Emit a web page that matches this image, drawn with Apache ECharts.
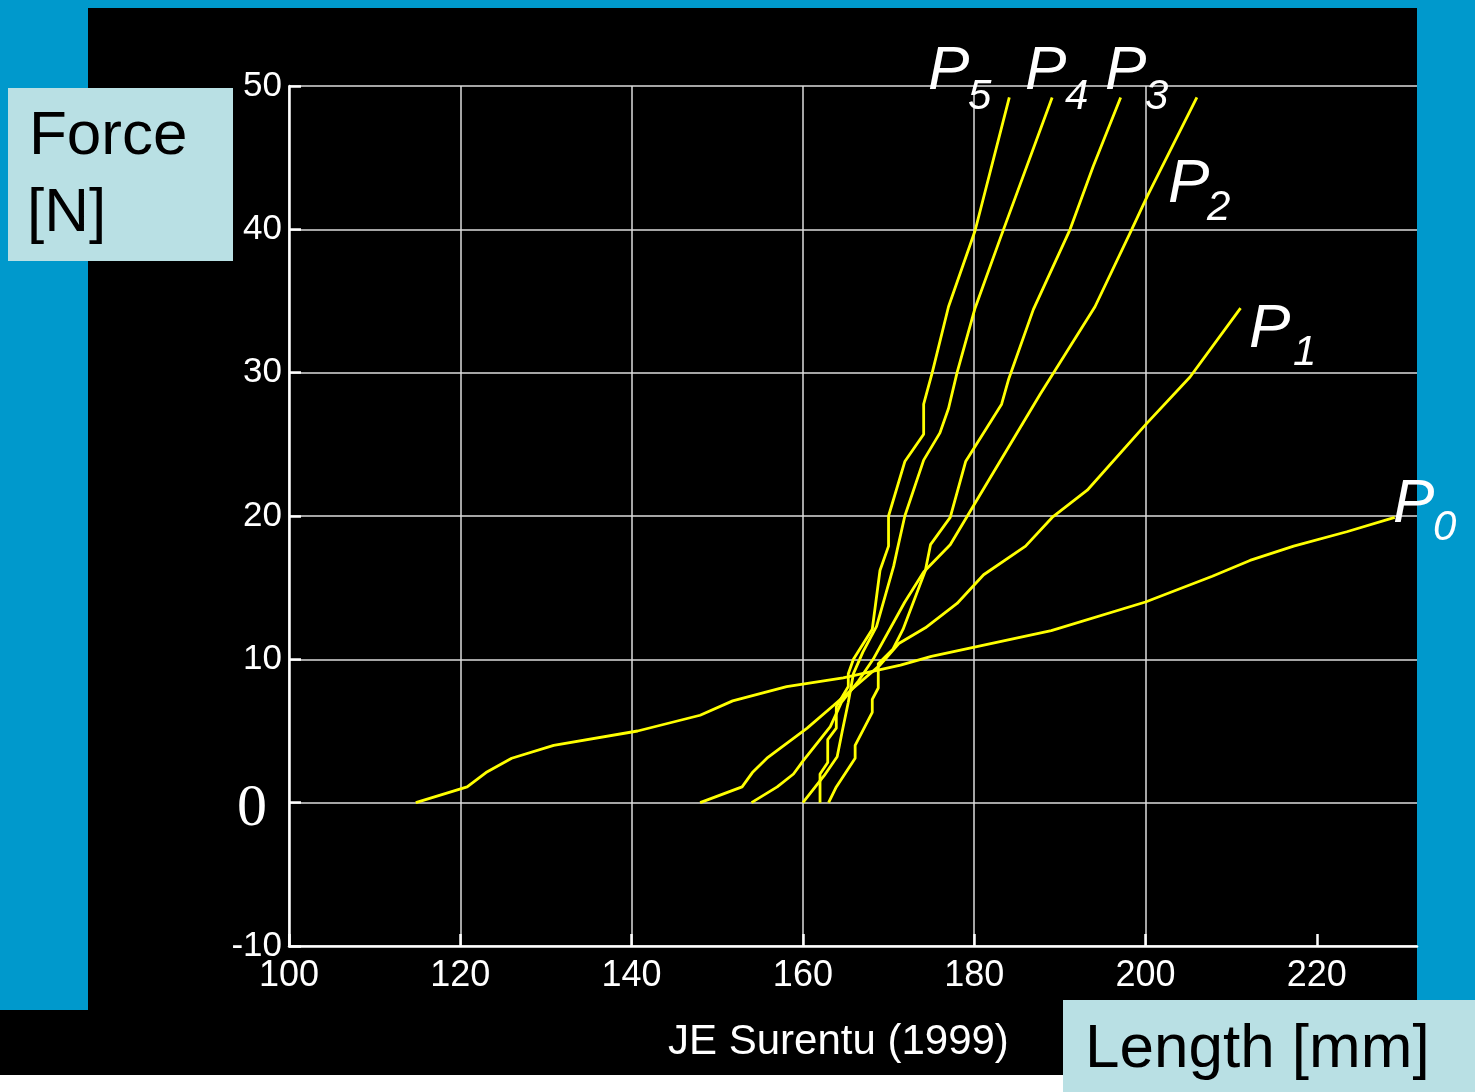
<!DOCTYPE html>
<html>
<head>
<meta charset="utf-8">
<script src="https://cdn.jsdelivr.net/npm/echarts@6/dist/echarts.min.js"></script>
<style>
  html, body { margin: 0; padding: 0; background: #0099CC; }
  #chart { width: 1475px; height: 1092px; }
</style>
</head>
<body>
<div id="chart"></div>
<script>
// ---- data (length mm, force N) ----
const xTickValues = [100, 120, 140, 160, 180, 200, 220];
const yTickValues = [-10, 0, 10, 20, 30, 40, 50];
const seriesNames = ['P0', 'P1', 'P2', 'P3', 'P4', 'P5'];

const p0 = [[114.8,0],[120.8,1.1],[123.0,2.1],[126.0,3.1],[130.9,4.0],[140.7,5.0],[148.0,6.1],[151.8,7.1],[158.1,8.1],[164.7,8.7],[171.4,9.6],[175.0,10.2],[189.0,12.0],[200.0,14.0],[207.8,15.8],[212.2,16.9],[217.3,17.9],[223.5,18.9],[229.1,19.9]];
const p1 = [[148.0,0],[152.9,1.1],[154.1,2.1],[155.8,3.1],[160.5,5.2],[163.6,6.8],[165.9,8.0],[169.0,9.6],[171.2,11.1],[174.3,12.2],[178.0,13.9],[181.1,15.9],[186.0,17.9],[189.1,19.9],[193.2,21.8],[200.2,26.5],[205.2,29.7],[211.1,34.5]];
const p2 = [[154.0,0],[157.0,1.1],[158.9,2.0],[160.0,2.9],[163.2,5.3],[164.5,7.0],[166.5,8.5],[168.2,10.0],[171.9,14.0],[174.1,16.1],[177.2,18.0],[179.9,20.7],[187.7,28.5],[194.1,34.6],[198.4,40.0],[200.2,42.3],[206.0,49.2]];
const p3 = [[163.0,0],[163.9,1.1],[166.1,3.1],[166.1,4.0],[168.1,6.3],[168.1,7.2],[168.8,8.0],[168.8,9.7],[170.5,10.7],[171.7,12.1],[174.3,16.2],[174.9,18.0],[177.2,19.9],[179.0,23.8],[183.2,27.8],[184.0,29.5],[186.9,34.4],[191.2,40.0],[193.9,44.4],[197.1,49.2]];
const p4 = [[160.0,0],[162.5,1.9],[164.0,3.2],[164.6,5.0],[165.3,7.0],[165.9,9.0],[167.0,10.5],[168.6,12.3],[170.6,16.5],[171.0,17.6],[171.9,20.0],[174.1,23.9],[176.0,25.8],[177.0,27.5],[178.0,30.0],[180.1,34.5],[183.0,39.3],[189.1,49.2]];
const p5 = [[162.0,0],[162.0,2.0],[162.9,2.8],[162.9,4.4],[163.9,5.2],[163.9,6.7],[165.3,8.1],[165.3,9.0],[165.9,10.0],[168.1,12.1],[169.0,16.2],[170.0,17.9],[170.0,20.0],[171.9,23.8],[174.1,25.7],[174.1,27.8],[175.1,30.0],[177.0,34.6],[180.1,39.9],[184.1,49.2]];
const allSeries = [p0, p1, p2, p3, p4, p5];

const chart = echarts.init(document.getElementById('chart'), null, { renderer: 'canvas' });

const WHITE = '#FFFFFF';
const LIGHT = '#B9E0E4';
const FONT = 'Liberation Sans, Arial, sans-serif';

function rect(x, y, w, h, color) {
  return { type: 'rect', z: -10, silent: true, shape: { x, y, width: w, height: h }, style: { fill: color } };
}
function txt(x, y, text, size, color, italic, family) {
  return { type: 'text', z: 100, silent: true, x, y,
    style: { text, fill: color, font: (italic ? 'italic ' : '') + size + 'px ' + (family || FONT),
      align: 'left', verticalAlign: 'middle' } };
}

// labels for curves: [P-left, P-center-y, sub-left, sub-center-y]
const labelPos = [
  [1393, 505, 1433, 528],
  [1249, 330, 1293, 353],
  [1168, 185, 1207, 208],
  [1105, 72, 1145, 97],
  [1025, 72, 1065, 97],
  [928, 72, 968, 97]
];

const graphics = [
  rect(88, 8, 1329, 1067, '#000000'),
  rect(0, 1010, 88, 65, '#000000'),
  rect(0, 1075, 1063, 17, '#FFFFFF'),
  rect(1063, 1000, 412, 92, LIGHT),
  rect(8, 88, 225, 173, LIGHT),
  txt(29, 137, 'Force', 62, '#000000', false),
  txt(27, 214, '[N]', 62, '#000000', false),
  txt(1085, 1050, 'Length [mm]', 62, '#000000', false),
  txt(668, 1042, 'JE Surentu (1999)', 42, WHITE, false)
];
seriesNames.forEach((n, i) => {
  const lp = labelPos[i];
  graphics.push(txt(lp[0], lp[1], n.charAt(0), 62, WHITE, true));
  graphics.push(txt(lp[2], lp[3], n.slice(1), 42, WHITE, true));
});

chart.setOption({
  animation: false,
  backgroundColor: '#0099CC',
  grid: { left: 289, right: 58, top: 86, bottom: 146, containLabel: false },
  xAxis: {
    type: 'value', min: 100, max: 231.7, interval: 20,
    axisLine: { show: true, onZero: false, lineStyle: { color: WHITE, width: 2.5 } },
    axisTick: { show: true, inside: true, length: 12, customValues: xTickValues, lineStyle: { color: WHITE, width: 2.5 } },
    axisLabel: { color: WHITE, fontSize: 36, fontFamily: FONT, margin: 12, customValues: xTickValues,
      formatter: v => (xTickValues.indexOf(v) >= 0 ? String(v) : '') },
    splitLine: { show: true, showMaxLine: false, lineStyle: { color: '#DDDDDD', width: 1.5 } }
  },
  yAxis: {
    type: 'value', min: -10, max: 50, interval: 10,
    axisLine: { show: true, onZero: false, lineStyle: { color: WHITE, width: 2.5 } },
    axisTick: { show: true, inside: true, length: 12, lineStyle: { color: WHITE, width: 2.5 } },
    axisLabel: { color: WHITE, fontSize: 35, fontFamily: FONT, margin: 7,
      formatter: v => (v === 0 ? '{z|0}' : (yTickValues.indexOf(v) >= 0 ? String(v) : '')),
      rich: { z: { fontFamily: 'Liberation Serif, Times New Roman, serif', fontSize: 60, color: WHITE, padding: [14, 15, 0, 0] } }
    },
    splitLine: { show: true, lineStyle: { color: '#DDDDDD', width: 1.5 } }
  },
  series: allSeries.map((d, i) => ({
    name: seriesNames[i], type: 'line', data: d, showSymbol: false, symbol: 'none',
    lineStyle: { color: '#FFFF00', width: 2.8 }, z: 5
  })),
  graphic: graphics
});
</script>
</body>
</html>
